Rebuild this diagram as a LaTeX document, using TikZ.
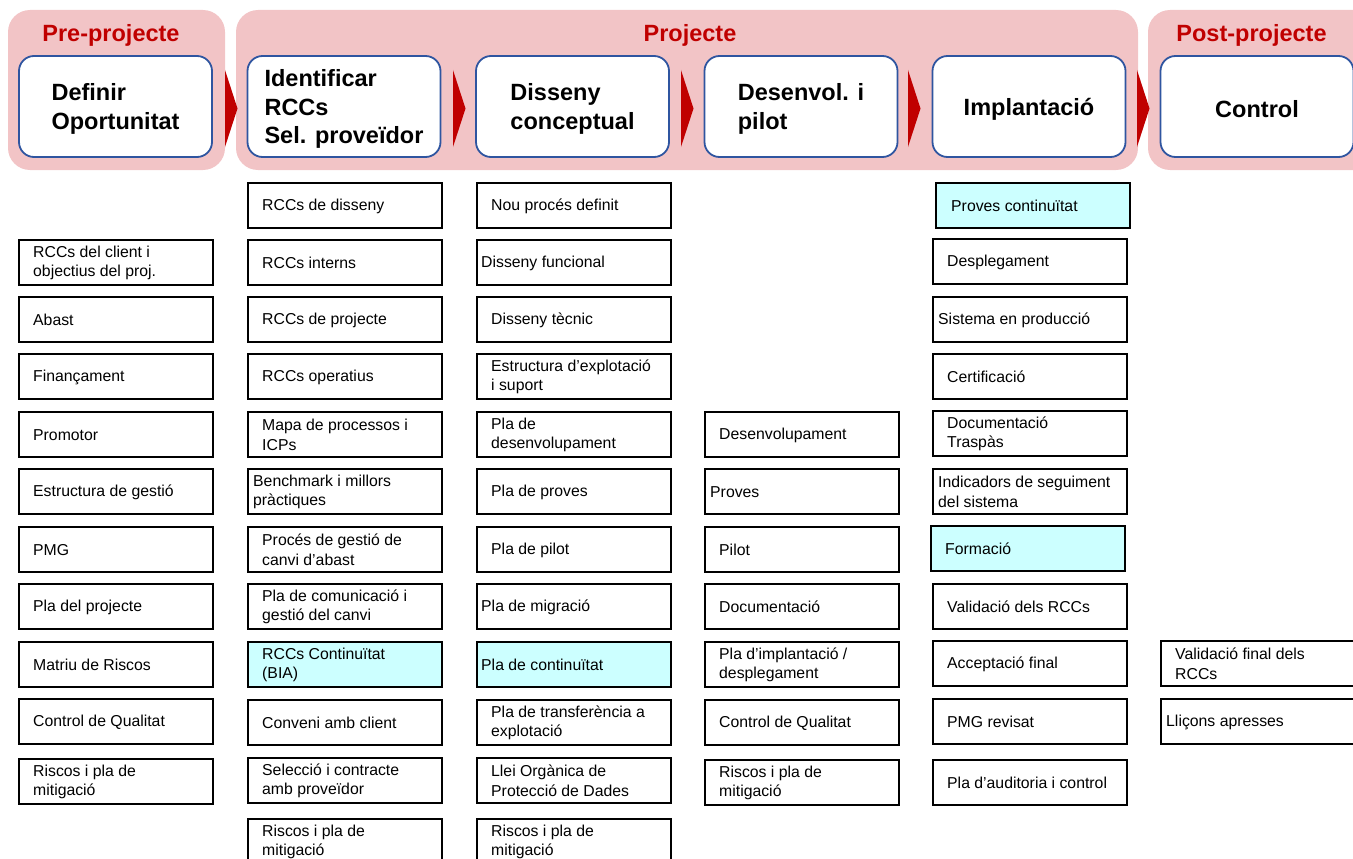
\documentclass[tikz,border=0pt]{standalone}
\usepackage{fontspec}
\setmainfont{Liberation Sans}
\definecolor{phasebg}{RGB}{242,196,198}
\definecolor{phasered}{RGB}{192,0,0}
\definecolor{headblue}{RGB}{47,85,160}
\definecolor{contfill}{RGB}{204,255,255}
\tikzset{
  phase/.style={fill=phasebg, rounded corners=22pt},
  phasetitle/.style={text=phasered, font=\bfseries\fontsize{23.5}{28}\selectfont, anchor=base, inner sep=0pt},
  headbox/.style={draw=headblue, line width=1.8pt, fill=white, rounded corners=15pt,
    minimum width=193pt, minimum height=101pt, inner sep=0pt},
  headtext/.style={align=left, inner sep=0pt, font=\bfseries\fontsize{23.5}{28.5}\selectfont},
  chevron/.style={fill=phasered},
  itembox/.style={draw=black, line width=2pt, fill=white, anchor=north west,
    minimum width=194pt, minimum height=45pt, inner sep=0pt},
  itemtext/.style={anchor=west, align=left, inner sep=0pt, font=\fontsize{15.8}{19.5}\selectfont},
}
% \itembox[box options]{name}{left}{top}{text indent}{text}
\newcommand\itembox[6][]{%
  \node[itembox,#1] (#2) at (#3,#4) {};
  \node[itemtext] (#2-t) at ([xshift=#5pt,yshift=-0.5pt]#2.west) {#6};
}
% \headstep{name}{centre x}{text}
\newcommand\headstep[3]{%
  \node[headbox] (#1) at (#2,106.5) {};
  \node[headtext] (#1-t) at ([yshift=-2.5pt]#1.center) {#3};
}
\begin{document}
\begin{tikzpicture}[x=1pt,y=-1pt]
\useasboundingbox (0,0) rectangle (1353,859);
\clip (0,0) rectangle (1353,859);

% phase bands
\fill[phase] (8,10) rectangle (225,170);
\fill[phase] (236,10) rectangle (1138,170);
\fill[phase] (1148,10) rectangle (1385,170);

\node[phasetitle] (tpre) at (111,41.5) {Pre-projecte};
\node[phasetitle] (tproj) at (690,41.5) {Projecte};
\node[phasetitle] (tpost) at (1251.5,41.5) {Post-projecte};

% chevrons between the phase steps
\foreach \x in {225,453,681,908,1137}
  \fill[chevron] (\x,70) -- (\x+12.5,108.5) -- (\x,147) -- cycle;

% phase steps
\headstep{hdef}{115.5}{Definir\\Oportunitat}
\headstep{hid}{344}{Identificar\\RCCs\\Sel. proveïdor}
\headstep{hdis}{572.5}{Disseny\\conceptual}
\headstep{hdes}{801}{Desenvol. i\\pilot}
\headstep{himp}{1029}{Implantació}
\headstep{hctl}{1257}{Control}

% Pre-projecte deliverables
\itembox{p1}{18}{239}{15}{RCCs del client i\\objectius del proj.}
\itembox{p2}{18}{296}{15}{Abast}
\itembox{p3}{18}{353}{15}{Finançament}
\itembox{p4}{18}{411}{15}{Promotor}
\itembox{p5}{18}{468}{15}{Estructura de gestió}
\itembox{p6}{18}{526}{15}{PMG}
\itembox{p7}{18}{583}{15}{Pla del projecte}
\itembox{p8}{18}{641}{15}{Matriu de Riscos}
\itembox{p9}{18}{698}{15}{Control de Qualitat}
\itembox{p10}{18}{758}{15}{Riscos i pla de\\mitigació}

% Identificar RCCs / selecció proveïdor
\itembox{i1}{247}{182}{15}{RCCs de disseny}
\itembox{i2}{247}{239}{15}{RCCs interns}
\itembox{i3}{247}{296}{15}{RCCs de projecte}
\itembox{i4}{247}{353}{15}{RCCs operatius}
\itembox{i5}{247}{411}{15}{Mapa de processos i\\ICPs}
\itembox{i6}{247}{468}{6}{Benchmark i millors\\pràctiques}
\itembox{i7}{247}{526}{15}{Procés de gestió de\\canvi d’abast}
\itembox{i8}{247}{583}{15}{Pla de comunicació i\\gestió del canvi}
\itembox[fill=contfill]{i9}{247}{641}{15}{RCCs Continuïtat\\(BIA)}
\itembox{i10}{247}{699}{15}{Conveni amb client}
\itembox{i11}{247}{757}{15}{Selecció i contracte\\amb proveïdor}
\itembox{i12}{247}{818}{15}{Riscos i pla de\\mitigació}

% Disseny conceptual
\itembox{d1}{476}{182}{15}{Nou procés definit}
\itembox{d2}{476}{239}{5}{Disseny funcional}
\itembox{d3}{476}{296}{15}{Disseny tècnic}
\itembox{d4}{476}{353}{15}{Estructura d’explotació\\i suport}
\itembox{d5}{476}{411}{15}{Pla de\\desenvolupament}
\itembox{d6}{476}{468}{15}{Pla de proves}
\itembox{d7}{476}{526}{15}{Pla de pilot}
\itembox{d8}{476}{583}{5}{Pla de migració}
\itembox[fill=contfill]{d9}{476}{641}{5}{Pla de continuïtat}
\itembox{d10}{476}{699}{15}{Pla de transferència a\\explotació}
\itembox{d11}{476}{757}{15}{Llei Orgànica de\\Protecció de Dades}
\itembox{d12}{476}{818}{15}{Riscos i pla de\\mitigació}

% Desenvolupament i pilot
\itembox{v1}{704}{411}{15}{Desenvolupament}
\itembox{v2}{704}{468}{6}{Proves}
\itembox{v3}{704}{526}{15}{Pilot}
\itembox{v4}{704}{583}{15}{Documentació}
\itembox{v5}{704}{641}{15}{Pla d’implantació /\\desplegament}
\itembox{v6}{704}{699}{15}{Control de Qualitat}
\itembox{v7}{704}{759}{15}{Riscos i pla de\\mitigació}

% Implantació
\itembox[fill=contfill]{m1}{935}{182}{16}{Proves continuïtat}
\itembox{m2}{932}{238}{15}{Desplegament}
\itembox{m3}{932}{296}{6}{Sistema en producció}
\itembox{m4}{932}{353}{15}{Certificació}
\itembox{m5}{932}{410}{15}{Documentació\\Traspàs}
\itembox{m6}{932}{468}{6}{Indicadors de seguiment\\del sistema}
\itembox[fill=contfill]{m7}{930}{525}{15}{Formació}
\itembox{m8}{932}{583}{15}{Validació dels RCCs}
\itembox{m9}{932}{640}{15}{Acceptació final}
\itembox{m10}{932}{698}{15}{PMG revisat}
\itembox{m11}{932}{759}{15}{Pla d’auditoria i control}

% Control
\itembox[minimum width=205pt]{c1}{1160}{640}{15}{Validació final dels\\RCCs}
\itembox[minimum width=205pt]{c2}{1160}{698}{6}{Lliçons apresses}
\end{tikzpicture}
\end{document}
